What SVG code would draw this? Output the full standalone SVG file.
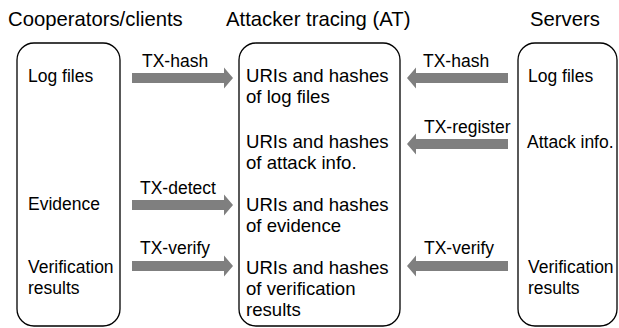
<svg xmlns="http://www.w3.org/2000/svg" width="619" height="328" viewBox="0 0 619 328">
<defs>
<style>
text{font-family:"Liberation Sans",Arial,sans-serif;font-size:17.5px;fill:#000}
.title{font-size:20.3px}
.mid{font-size:18.6px}
.box{fill:#fff;stroke:#000;stroke-width:1.3}
.arrow{fill:#7f7f7f}
</style>
<path id="ar" d="M0,-5 H92 V-10.5 L101,0 L92,10.5 V5 H0 Z"/>
<path id="al" d="M0,0 L9,-10.5 V-5 H101 V5 H9 V10.5 Z"/>
</defs>
<rect width="619" height="328" fill="#fff"/>
<g id="titles">
<text class="title" x="8" y="26">Cooperators/clients</text>
<text class="title" x="226" y="26">Attacker tracing (AT)</text>
<text class="title" x="530" y="26">Servers</text>
</g>
<g id="clients">
<rect class="box" x="17" y="43" width="103" height="283" rx="17"/>
<text x="28" y="82">Log files</text>
<text x="28" y="210">Evidence</text>
<text x="28" y="273">Verification</text>
<text x="28" y="294">results</text>
</g>
<g id="at">
<rect class="box" x="239" y="43" width="161" height="283" rx="17"/>
<text class="mid" x="246" y="82">URIs and hashes</text>
<text class="mid" x="246" y="103">of log files</text>
<text class="mid" x="246" y="148">URIs and hashes</text>
<text class="mid" x="246" y="169">of attack info.</text>
<text class="mid" x="246" y="211">URIs and hashes</text>
<text class="mid" x="246" y="232">of evidence</text>
<text class="mid" x="246" y="274">URIs and hashes</text>
<text class="mid" x="246" y="295">of verification</text>
<text class="mid" x="246" y="316">results</text>
</g>
<g id="servers">
<rect class="box" x="518" y="43" width="99" height="283" rx="17"/>
<text x="528" y="82">Log files</text>
<text x="527" y="148">Attack info.</text>
<text x="528" y="273">Verification</text>
<text x="528" y="294">results</text>
</g>
<g id="connectors">
<use href="#ar" class="arrow" x="132" y="78"/>
<use href="#ar" class="arrow" x="132" y="205"/>
<use href="#ar" class="arrow" x="132" y="266"/>
<use href="#al" class="arrow" x="407" y="78"/>
<use href="#al" class="arrow" x="407" y="144"/>
<use href="#al" class="arrow" x="407" y="266"/>
<text x="142" y="67">TX-hash</text>
<text x="140" y="194">TX-detect</text>
<text x="140" y="254">TX-verify</text>
<text x="423" y="67">TX-hash</text>
<text x="424" y="133">TX-register</text>
<text x="424" y="254">TX-verify</text>
</g>
</svg>
